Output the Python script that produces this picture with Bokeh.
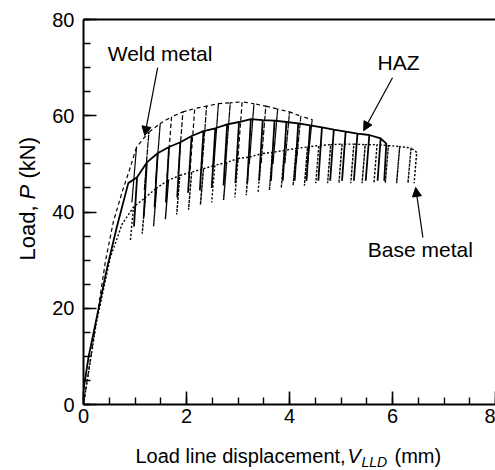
import math
from bokeh.plotting import figure
from bokeh.layouts import row, column
from bokeh.models import (Range1d, SingleIntervalTicker, FixedTicker, LinearAxis, Label,
                          Arrow, NormalHead)
from bokeh.embed import file_html
from bokeh.resources import INLINE

# ---------------- data ----------------
# HAZ (solid)
haz_init_x = [0.0, 0.10, 0.46, 0.65, 0.87]
haz_init_p = [3.0, 10.0, 28.5, 37.0, 46.0]
haz_peak_x = [1.04, 1.23, 1.44, 1.66, 1.88, 2.10, 2.33, 2.56, 2.79, 3.02, 3.25, 3.48,
              3.71, 3.94, 4.17, 4.40, 4.63, 4.86, 5.09, 5.32, 5.55, 5.77, 5.88]
haz_peak_p = [47.2, 50.3, 52.2, 53.5, 54.5, 55.8, 56.8, 57.4, 58.2, 58.7, 59.3, 59.1,
              59.0, 58.7, 58.4, 58.0, 57.6, 57.1, 56.7, 56.3, 56.0, 55.3, 54.2]
haz_min_x = [0.98, 1.17, 1.38, 1.60, 1.82, 2.03, 2.26, 2.49, 2.72, 2.95, 3.18, 3.41,
             3.64, 3.87, 4.10, 4.33, 4.56, 4.79, 5.02, 5.25, 5.48, 5.71, 5.84]
haz_min_p = [37.0, 39.0, 41.0, 42.0, 43.0, 44.0, 44.5, 45.0, 45.5, 46.0, 46.0, 46.5,
             46.5, 46.5, 46.5, 46.5, 46.5, 46.5, 46.5, 46.5, 46.5, 46.5, 46.5]

# Weld metal (dashed)
weld_init_x = [0.0, 0.43, 0.58, 0.76, 0.91]
weld_init_p = [0.0, 30.0, 38.0, 44.5, 49.3]
weld_peak_x = [1.03, 1.27, 1.49, 1.71, 1.93, 2.16, 2.39, 2.62, 2.85, 3.08, 3.31, 3.54,
               3.77, 4.00, 4.22, 4.44]
weld_peak_p = [53.5, 56.6, 58.4, 59.8, 60.8, 61.5, 62.0, 62.5, 62.7, 62.9, 62.5, 62.0,
               61.4, 60.8, 59.9, 59.2]
weld_min_x = [0.94, 1.18, 1.40, 1.62, 1.84, 2.07, 2.30, 2.53, 2.76, 2.99, 3.22, 3.45,
              3.68, 3.91, 4.13, 4.35]
weld_min_p = [42.0, 44.5, 46.0, 47.0, 48.0, 48.5, 49.0, 49.5, 50.0, 50.0, 50.0, 50.0,
              50.0, 50.0, 50.0, 50.0]

# Base metal (dotted)
base_init_x = [0.0, 0.25, 0.52, 0.75]
base_init_p = [0.0, 17.0, 30.5, 37.5]
base_peak_x = [0.97, 1.20, 1.42, 1.65, 1.87, 2.10, 2.33, 2.55, 2.78, 3.00, 3.22, 3.45,
               3.67, 3.90, 4.13, 4.35, 4.57, 4.80, 5.02, 5.25, 5.47, 5.70, 5.92, 6.14,
               6.36, 6.47]
base_peak_p = [41.0, 43.0, 45.0, 46.6, 47.6, 48.3, 49.0, 49.7, 50.3, 51.1, 51.4, 52.1,
               52.4, 52.8, 53.2, 53.5, 53.8, 54.0, 54.1, 54.1, 54.0, 54.0, 53.8, 53.6,
               53.3, 52.4]
base_min_x = [0.91, 1.14, 1.36, 1.59, 1.81, 2.04, 2.27, 2.49, 2.72, 2.94, 3.16, 3.39,
              3.61, 3.84, 4.07, 4.29, 4.51, 4.74, 4.96, 5.19, 5.41, 5.64, 5.86, 6.08,
              6.30, 6.42]
base_min_p = [34.0, 35.5, 37.0, 38.5, 39.5, 40.5, 41.5, 42.0, 42.5, 43.0, 43.5, 44.0,
              44.5, 45.0, 45.5, 45.5, 46.0, 46.0, 46.0, 46.0, 46.0, 46.0, 46.0, 46.0,
              46.0, 46.0]

x_major_ticks_interval = 2
y_major_ticks_interval = 20

FONT = "Liberation Sans"


def sawtooth(ix, ip, px, pp, mx, mp):
    xs, ys = list(ix), list(ip)
    for a, b, c, d in zip(px, pp, mx, mp):
        xs += [a, c, a]
        ys += [b, d, b]
    return xs, ys


YT_W = 40      # width of the strip holding the y-axis title
XT_H = 30      # height of the strip holding the x-axis title
W, H = 495, 470
FRAME_L = 83   # page x of the plot frame's left edge

p = figure(width=W - YT_W, height=H - XT_H, output_backend="svg", toolbar_location=None,
           x_range=Range1d(0, 8), y_range=Range1d(0, 80),
           min_border_left=FRAME_L - YT_W, min_border_right=0, min_border_top=19,
           min_border_bottom=H - XT_H - 404)
p.outline_line_color = None
p.grid.visible = False
p.background_fill_color = "white"
p.border_fill_color = "white"

for ax in (p.xaxis[0], p.yaxis[0]):
    ax.axis_line_width = 2
    ax.axis_line_color = "black"
    ax.major_tick_in = 13
    ax.major_tick_out = 0
    ax.minor_tick_in = 7
    ax.minor_tick_out = 0
    ax.major_tick_line_width = 1.6
    ax.minor_tick_line_width = 1.4
    ax.major_label_text_font = FONT
    ax.major_label_text_font_size = "20px"
    ax.major_label_text_color = "black"

p.xaxis[0].ticker = SingleIntervalTicker(interval=x_major_ticks_interval, num_minor_ticks=4)
p.yaxis[0].ticker = SingleIntervalTicker(interval=y_major_ticks_interval, num_minor_ticks=4)
p.xaxis[0].major_label_standoff = 4
p.yaxis[0].major_label_standoff = 9

top = LinearAxis(axis_line_width=2, axis_line_color="black", ticker=FixedTicker(ticks=[]),
                 major_tick_line_color=None, minor_tick_line_color=None)
p.add_layout(top, "above")

# curves
hx, hy = sawtooth(haz_init_x, haz_init_p, haz_peak_x, haz_peak_p, haz_min_x, haz_min_p)
wx, wy = sawtooth(weld_init_x, weld_init_p, weld_peak_x, weld_peak_p, weld_min_x, weld_min_p)
bx, by = sawtooth(base_init_x, base_init_p, base_peak_x, base_peak_p, base_min_x, base_min_p)

p.line(bx, by, line_color="black", line_width=1.4, line_dash="2 2")
p.line(wx, wy, line_color="black", line_width=1.2, line_dash="4 3")
p.line(hx, hy, line_color="black", line_width=1.8)

# annotations
ann = dict(text_font=FONT, text_font_size="21px", text_color="black",
           text_baseline="alphabetic", text_align="left")
p.add_layout(Label(x=0.47, y=73.0, text="Weld metal", **ann))
p.add_layout(Label(x=5.71, y=71.1, text="HAZ", **ann))
p.add_layout(Label(x=5.52, y=32.2, text="Base metal", **ann))


def arrow(x0, y0, x1, y1):
    p.add_layout(Arrow(end=NormalHead(size=9, fill_color="black", line_color="black"),
                       x_start=x0, y_start=y0, x_end=x1, y_end=y1,
                       line_color="black", line_width=1.2))


arrow(1.44, 70.0, 1.19, 55.9)
arrow(6.00, 67.9, 5.44, 56.9)
arrow(6.59, 34.7, 6.45, 45.1)


def strip(w, h, xr, yr):
    f = figure(width=w, height=h, output_backend="svg", toolbar_location=None,
               x_range=Range1d(*xr), y_range=Range1d(*yr),
               x_axis_type=None, y_axis_type=None,
               min_border_left=0, min_border_right=0, min_border_top=0, min_border_bottom=0)
    f.outline_line_color = None
    f.grid.visible = False
    f.background_fill_color = "white"
    f.border_fill_color = "white"
    return f


# x-axis title strip: its frame is aligned with the main frame (page x 83..495),
# so its x range is expressed in page pixels
xs_fig = strip(W - YT_W, XT_H, (FRAME_L, W), (0, XT_H))
xt = dict(text_font=FONT, text_color="black", text_baseline="alphabetic", text_align="left")
xs_fig.add_layout(Label(x=135, y=15, text="Load line displacement,", text_font_size="20px", **xt))
xs_fig.add_layout(Label(x=347, y=15, text="V", text_font_size="20px",
                        text_font_style="italic", **xt))
xs_fig.add_layout(Label(x=361, y=9, text="LLD", text_font_size="14px",
                        text_font_style="italic", **xt))
xs_fig.add_layout(Label(x=394, y=15, text="(mm)", text_font_size="20px", **xt))

# y-axis title strip
ys_fig = strip(YT_W, H, (0, YT_W), (0, H))
yt = dict(text_font=FONT, text_color="black", text_baseline="middle", text_align="left",
          angle=math.pi / 2, angle_units="rad", text_font_size="22px")
ys_fig.add_layout(Label(x=27, y=210, text="Load,", **yt))
ys_fig.add_layout(Label(x=27, y=271, text="P", text_font_style="italic", **yt))
ys_fig.add_layout(Label(x=27, y=292, text="(kN)", **yt))

layout = row(ys_fig, column(p, xs_fig, spacing=0), spacing=0)

open("out.html", "w").write(file_html(layout, INLINE))
